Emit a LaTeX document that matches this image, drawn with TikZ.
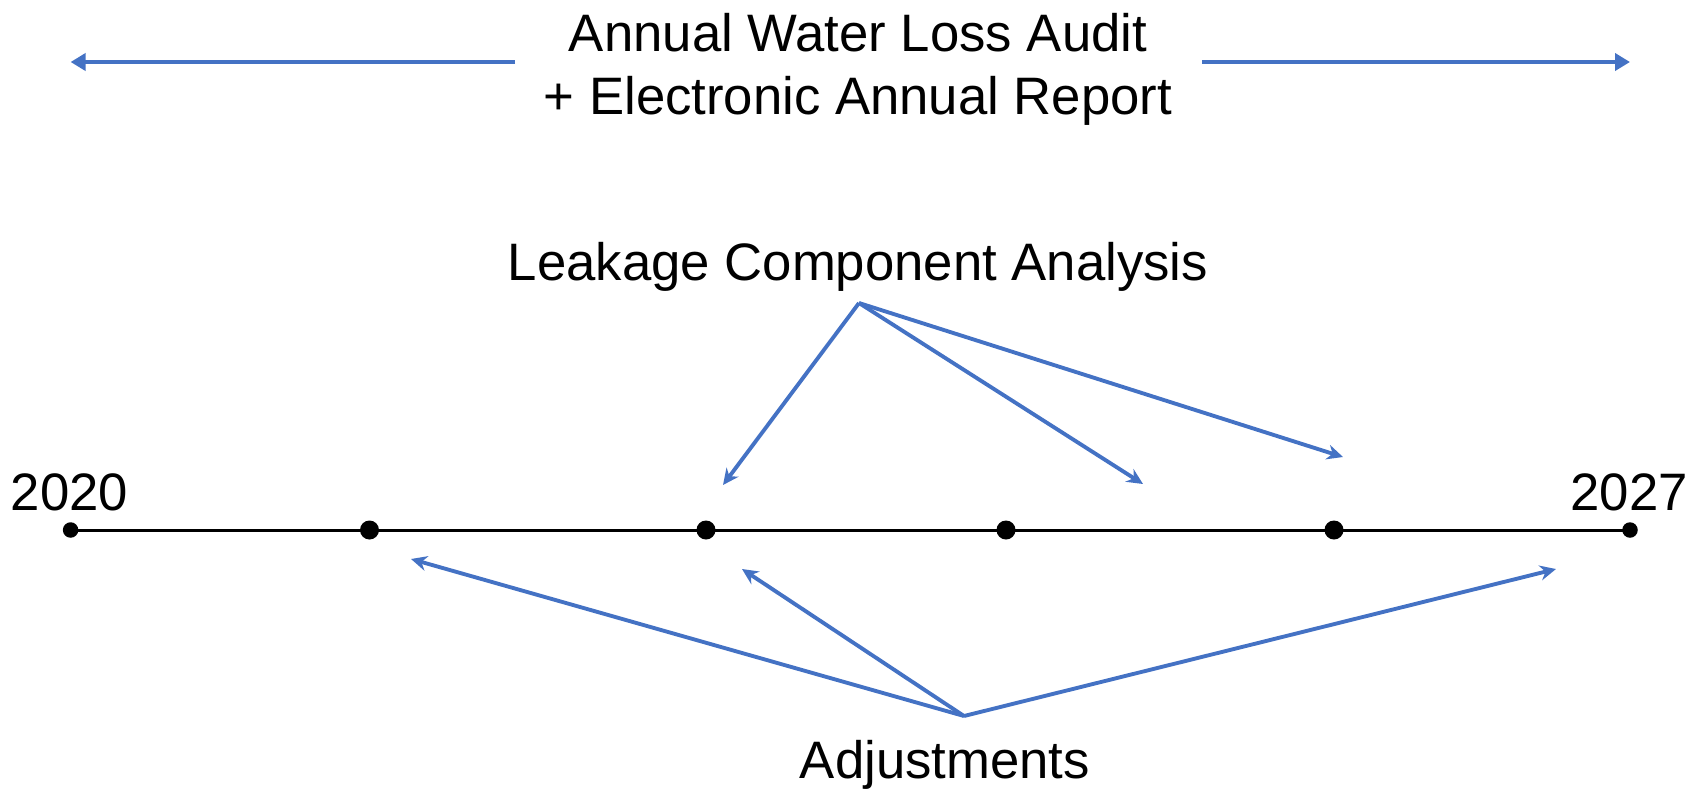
\documentclass[tikz,border=0pt]{standalone}
\usepackage{fontspec}
\setmainfont{Liberation Sans}
\usetikzlibrary{arrows.meta}
\definecolor{auditblue}{HTML}{4472C4}

\begin{document}
\begin{tikzpicture}[x=0.02cm,y=-0.02cm,
		label text/.style={font=\fontsize{30}{36}\selectfont,anchor=base,inner sep=0pt},
		top arrow/.style={-{Triangle[length=0.3cm,width=0.34cm]},color=auditblue,line width=2.2pt},
		pointer/.style={-{Stealth[length=0.32cm,width=0.3cm]},color=auditblue,line width=2.2pt},
		big dot/.style={circle,fill=black,inner sep=0pt,minimum size=0.38cm},
		end dot/.style={circle,fill=black,inner sep=0pt,minimum size=0.31cm}]
	\useasboundingbox (0,0) rectangle (1704,789);
	% title and its two arrows
	\node[label text] (title1) at (858,51){Annual Water Loss Audit};
	\node[label text] (title2) at (858,114){+ Electronic Annual Report};
	\coordinate (la) at (515,62);
	\coordinate (lend) at (70.6,62);
	\coordinate (ra) at (1202,62);
	\coordinate (rend) at (1630,62);
	\draw[top arrow] (la) -- (lend);
	\draw[top arrow] (ra) -- (rend);
	% timeline
	\node[end dot] (d0) at (70.6,530){};
	\node[big dot] (d1) at (369.5,530){};
	\node[big dot] (d2) at (706,530){};
	\node[big dot] (d3) at (1006,530){};
	\node[big dot] (d4) at (1334,530){};
	\node[end dot] (d5) at (1630,530){};
	\draw[line width=1.7pt] (d0.center) -- (d5.center);
	\node[label text] (y2020) at (69.5,510){2020};
	\node[label text] (y2027) at (1629,510){2027};
	% leakage component analysis
	\node[label text] (lca) at (858,280.5){Leakage Component Analysis};
	\coordinate (lcatop) at (859,303);
	\coordinate (l1) at (723,485);
	\coordinate (l2) at (1143,484);
	\coordinate (l3) at (1343,457);
	\draw (lcatop) edge [pointer] (l1);
	\draw (lcatop) edge [pointer] (l2);
	\draw (lcatop) edge [pointer] (l3);
	% adjustments
	\node[label text] (adj) at (945,778){Adjustments};
	\coordinate (adjtop) at (964,716);
	\coordinate (a1) at (411,559);
	\coordinate (a2) at (742,569);
	\coordinate (a3) at (1556,569);
	\draw (adjtop) edge [pointer] (a1);
	\draw (adjtop) edge [pointer] (a2);
	\draw (adjtop) edge [pointer] (a3);
\end{tikzpicture}
\end{document}
